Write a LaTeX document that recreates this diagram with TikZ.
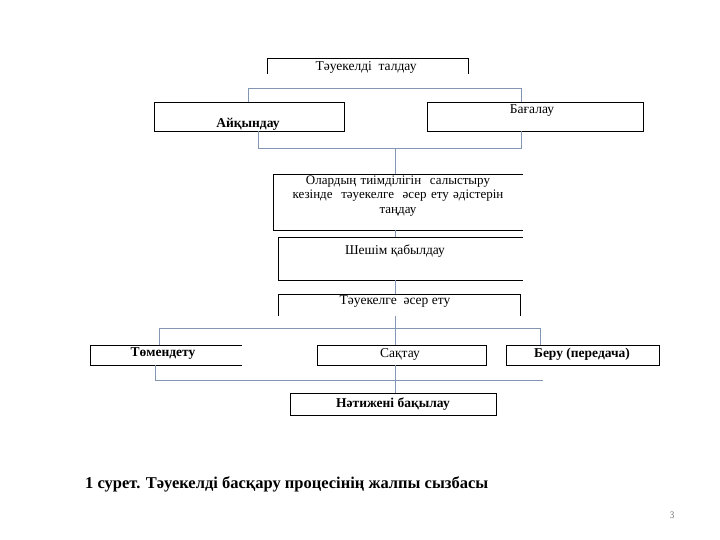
\documentclass[tikz,border=0pt]{standalone}
\usepackage{fontspec}
\setmainfont{Liberation Serif}
\definecolor{conc}{RGB}{130,150,180}
\begin{document}
\begin{tikzpicture}[x=1pt,y=-1pt,
  box/.style={draw=black,line width=0.9pt},
  con/.style={draw=conc,line width=0.9pt},
  lbl/.style={font=\fontsize{13.5}{14}\selectfont,inner sep=0pt,align=center},
  blbl/.style={lbl,font=\fontsize{13.5}{14}\selectfont\bfseries}]
\useasboundingbox (0,0) rectangle (720,540);
% texts
\node[lbl] (t1) at (366,67) {Тәуекелді \ талдау};
\node[blbl] (a) at (248,124) {Айқындау};
\node[lbl] (b) at (532,111) {Бағалау};
\node[lbl,text width=250pt,font=\fontsize{13}{14.5}\selectfont] (c) at (398,196) {Олардың тиімділігін \ салыстыру\\ кезінде \ тәуекелге \ әсер ету әдістерін\\ таңдау};
\node[lbl] (d) at (395,251) {Шешім қабылдау};
\node[lbl] (e) at (395,302) {Тәуекелге \ әсер ету};
\node[blbl] (f) at (163,354) {Төмендету};
\node[lbl] (g) at (400,354) {Сақтау};
\node[blbl] (h) at (582,354) {Беру (передача)};
\node[blbl] (k) at (393,404) {Нәтижені бақылау};
% boxes
\draw[box] (267,74) -- (267,58) -- (468,58) -- (468,74);
\draw[box] (154,102) rectangle (344,131);
\draw[box] (427,102) rectangle (643,131);
\draw[box] (523,174) -- (273,174) -- (273,230) -- (523,230);
\draw[box] (523,237) -- (278,237) -- (278,280) -- (523,280);
\draw[box] (278,316) -- (278,294) -- (520,294) -- (520,316);
\draw[box] (242,345) -- (90,345) -- (90,365) -- (242,365);
\draw[box] (317,345) rectangle (486,365);
\draw[box] (506,345) rectangle (659,365);
\draw[box] (290,393) rectangle (496,415);
% connectors
\draw[con] (248,102) -- (248,88) -- (521,88) -- (521,102);
\draw[con] (258,131) -- (258,148) -- (521,148) -- (521,131);
\draw[con] (395,148) -- (395,174);
\draw[con] (395,230) -- (395,237);
\draw[con] (395,280) -- (395,294);
\draw[con] (395,316) -- (395,345);
\draw[con] (159,345) -- (159,328) -- (540,328) -- (540,345);
\draw[con] (155,365) -- (155,380) -- (543,380);
\draw[con] (395,365) -- (395,393);
% caption
\node[anchor=west,inner sep=0pt,font=\fontsize{16.5}{18}\selectfont\bfseries] (cap) at (85,484) {1 сурет. Тәуекелді басқару процесінің жалпы сызбасы};
\node[inner sep=0pt,text=gray,font=\fontsize{10}{10}\selectfont\sffamily] (pg) at (672,515) {3};
\end{tikzpicture}
\end{document}
